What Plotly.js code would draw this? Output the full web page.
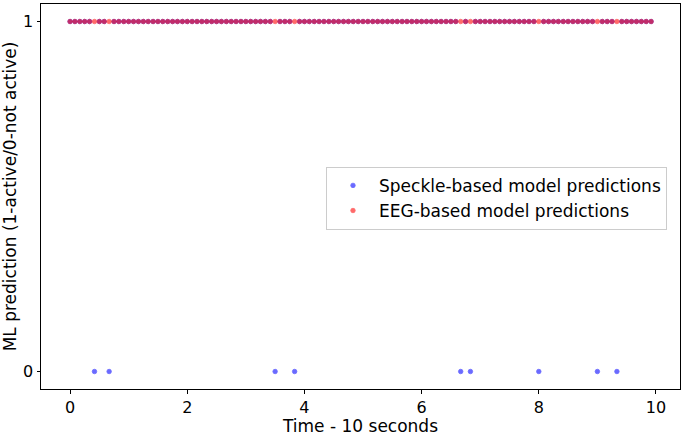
<!DOCTYPE html>
<html>
<head>
<meta charset="utf-8">
<script src="https://cdn.plot.ly/plotly-3.0.1.min.js"></script>
<style>html,body{margin:0;padding:0;background:#fff;}#chart{width:685px;height:436px;}</style>
</head>
<body>
<div id="chart"></div>
<script>
// Sample times (seconds), 12 samples per second over 10 s
const timeSec = [
  0, 0.083, 0.167, 0.25, 0.333, 0.417, 0.5, 0.583, 0.667, 0.75, 0.833, 0.917,
  1, 1.083, 1.167, 1.25, 1.333, 1.417, 1.5, 1.583, 1.667, 1.75, 1.833, 1.917,
  2, 2.083, 2.167, 2.25, 2.333, 2.417, 2.5, 2.583, 2.667, 2.75, 2.833, 2.917,
  3, 3.083, 3.167, 3.25, 3.333, 3.417, 3.5, 3.583, 3.667, 3.75, 3.833, 3.917,
  4, 4.083, 4.167, 4.25, 4.333, 4.417, 4.5, 4.583, 4.667, 4.75, 4.833, 4.917,
  5, 5.083, 5.167, 5.25, 5.333, 5.417, 5.5, 5.583, 5.667, 5.75, 5.833, 5.917,
  6, 6.083, 6.167, 6.25, 6.333, 6.417, 6.5, 6.583, 6.667, 6.75, 6.833, 6.917,
  7, 7.083, 7.167, 7.25, 7.333, 7.417, 7.5, 7.583, 7.667, 7.75, 7.833, 7.917,
  8, 8.083, 8.167, 8.25, 8.333, 8.417, 8.5, 8.583, 8.667, 8.75, 8.833, 8.917,
  9, 9.083, 9.167, 9.25, 9.333, 9.417, 9.5, 9.583, 9.667, 9.75, 9.833, 9.917
];

// Speckle-based model predictions (1 = active, 0 = not active)
const specklePred = [
  1,1,1,1,1,0,1,1,0,1,1,1,
  1,1,1,1,1,1,1,1,1,1,1,1,
  1,1,1,1,1,1,1,1,1,1,1,1,
  1,1,1,1,1,1,0,1,1,1,0,1,
  1,1,1,1,1,1,1,1,1,1,1,1,
  1,1,1,1,1,1,1,1,1,1,1,1,
  1,1,1,1,1,1,1,1,0,1,0,1,
  1,1,1,1,1,1,1,1,1,1,1,1,
  0,1,1,1,1,1,1,1,1,1,1,1,
  0,1,1,1,0,1,1,1,1,1,1,1
];

// EEG-based model predictions
const eegPred = [
  1,1,1,1,1,1,1,1,1,1,1,1,
  1,1,1,1,1,1,1,1,1,1,1,1,
  1,1,1,1,1,1,1,1,1,1,1,1,
  1,1,1,1,1,1,1,1,1,1,1,1,
  1,1,1,1,1,1,1,1,1,1,1,1,
  1,1,1,1,1,1,1,1,1,1,1,1,
  1,1,1,1,1,1,1,1,1,1,1,1,
  1,1,1,1,1,1,1,1,1,1,1,1,
  1,1,1,1,1,1,1,1,1,1,1,1,
  1,1,1,1,1,1,1,1,1,1,1,1
];

const seriesNames = ["Speckle-based model predictions", "EEG-based model predictions"];
const xTicks = [0, 2, 4, 6, 8, 10];
const yTicks = [0, 1];

const FONT = "DejaVu Sans, sans-serif";
const FS = 17;

const traces = [
  {
    x: timeSec, y: specklePred, type: "scatter", mode: "markers",
    name: seriesNames[0],
    marker: {color: "rgb(0,0,255)", opacity: 0.58, size: 4.5, line: {width: 0.8, color: "rgb(0,0,255)"}}
  },
  {
    x: timeSec, y: eegPred, type: "scatter", mode: "markers",
    name: seriesNames[1],
    marker: {color: "rgb(255,0,0)", opacity: 0.58, size: 4.5, line: {width: 0.8, color: "rgb(255,0,0)"}}
  }
];

const axisCommon = {
  showgrid: false, zeroline: false,
  showline: true, mirror: true, linecolor: "#000", linewidth: 1,
  ticks: "outside", ticklen: 3.5, tickwidth: 1, tickcolor: "#000",
  tickfont: {family: FONT, size: 16, color: "#000"},
  automargin: false
};

const layout = {
  width: 685, height: 436,
  margin: {l: 41, r: 5, t: 4, b: 47},
  paper_bgcolor: "#fff", plot_bgcolor: "#fff",
  font: {family: FONT, size: FS, color: "#000"},
  showlegend: true,
  xaxis: Object.assign({}, axisCommon, {
    range: [-0.496, 10.41], tickvals: xTicks, ticktext: xTicks.map(String),
    title: {text: "Time - 10 seconds", font: {family: FONT, size: FS, color: "#000"}, standoff: 0}
  }),
  yaxis: Object.assign({}, axisCommon, {
    range: [-0.05, 1.05], tickvals: yTicks, ticktext: yTicks.map(String),
    title: {text: "ML prediction (1-active/0-not active)", font: {family: FONT, size: FS, color: "#000"}, standoff: 2}
  }),
  legend: {
    x: 0.446, y: 0.577, xanchor: "left", yanchor: "top",
    bgcolor: "rgba(255,255,255,0.8)", bordercolor: "#cccccc", borderwidth: 1,
    font: {family: FONT, size: FS, color: "#000"},
    itemwidth: 42
  }
};

Plotly.newPlot("chart", traces, layout, {displayModeBar: false, staticPlot: true});
</script>
</body>
</html>
